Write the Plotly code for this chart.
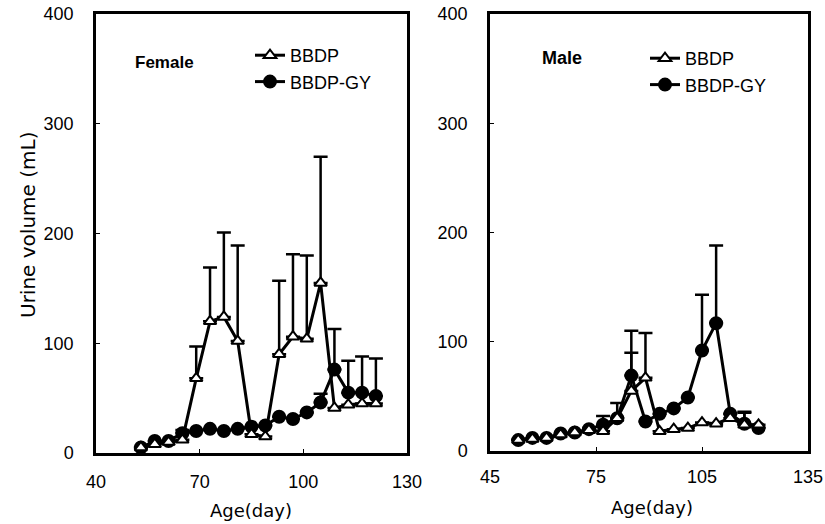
import plotly.graph_objects as go

# ---------------- data ----------------
female_age = [53, 57, 61, 65, 69, 73, 77, 81, 85, 89, 93, 97, 101, 105, 109, 113, 117, 121]
female_bbdp = [5, 8, 10, 12, 68, 120, 124, 102, 17, 15, 90, 106, 104, 155, 41, 44, 45, 45]
female_bbdp_err = [None, None, None, 9, 29, 49, 77, 87, None, None, 67, 75, 76, 115, None, None, None, None]
female_gy = [5, 11, 11, 18, 20, 22, 20, 22, 24, 25, 33, 31, 37, 46, 76, 55, 55, 52]
female_gy_err = [None, None, None, None, None, None, None, None, None, None, None, None, None, 8, 37, 29, 33, 34]

male_age = [53, 57, 61, 65, 69, 73, 77, 81, 85, 89, 93, 97, 101, 105, 109, 113, 117, 121]
male_bbdp = [10, 11, 12, 15, 17, 19, 18, 30, 55, 67, 18, 20, 21, 26, 25, 30, 24, 24]
male_bbdp_err = [None, None, None, None, None, None, 14, None, 35, 41, None, None, None, None, None, None, 12, None]
male_gy = [10, 12, 12, 16, 17, 20, 24, 30, 69, 27, 34, 39, 49, 92, 117, 34, 25, 21]
male_gy_err = [None, None, None, None, None, None, None, 14, 41, None, None, None, None, 51, 71, None, 10, None]

series_names = ["BBDP", "BBDP-GY"]
panel_labels = ["Female", "Male"]
y_ticks = [0, 100, 200, 300, 400]
female_x_ticks = [40, 70, 100, 130]
male_x_ticks = [45, 75, 105, 135]

FONT = "Liberation Sans, Arial, sans-serif"
WIDE = "DejaVu Sans, sans-serif"

fig = go.Figure()


def zeros(arr):
    return [0 if v is not None else None for v in arr]


def add_series(x, y, err, name, tri, xa, ya, legend):
    fig.add_trace(go.Scatter(
        x=x, y=y, mode="lines+markers", name=name,
        xaxis=xa, yaxis=ya, legend=legend,
        line=dict(color="black", width=3),
        marker=dict(
            symbol="triangle-up" if tri else "circle",
            size=11 if tri else 12,
            color="white" if tri else "black",
            line=dict(color="black", width=2),
        ),
        error_y=dict(type="data", array=err, arrayminus=zeros(err), symmetric=False,
                     color="black", thickness=2.5, width=7),
        cliponaxis=False,
    ))


add_series(female_age, female_gy, female_gy_err, series_names[1], False, "x", "y", "legend")
add_series(female_age, female_bbdp, female_bbdp_err, series_names[0], True, "x", "y", "legend")
add_series(male_age, male_gy, male_gy_err, series_names[1], False, "x2", "y2", "legend2")
add_series(male_age, male_bbdp, male_bbdp_err, series_names[0], True, "x2", "y2", "legend2")

W, H = 825, 524

axis_common = dict(
    showgrid=False, zeroline=False, showline=True, mirror=True,
    linecolor="black", linewidth=2.5, ticks="inside", ticklen=4,
    tickcolor="black", tickwidth=1, automargin=False,
    tickfont=dict(family=FONT, size=18, color="black"),
)

legend_font = dict(family=FONT, size=18, color="black")

fig.update_layout(
    width=W, height=H,
    margin=dict(l=0, r=0, t=0, b=0, autoexpand=False),
    paper_bgcolor="white", plot_bgcolor="white",
    xaxis=dict(axis_common, domain=[96 / W, 407 / W], range=[40, 130],
               tickvals=female_x_ticks, anchor="y", ticklabelstandoff=11),
    yaxis=dict(axis_common, domain=[1 - 453 / H, 1 - 14 / H], range=[0, 400],
               tickvals=y_ticks, anchor="x", ticklabelstandoff=16),
    xaxis2=dict(axis_common, domain=[490 / W, 808 / W], range=[45, 135],
                tickvals=male_x_ticks, anchor="y2", ticklabelstandoff=8),
    yaxis2=dict(axis_common, domain=[1 - 451 / H, 1 - 14 / H], range=[0, 400],
                tickvals=y_ticks, anchor="x2", ticklabelstandoff=16),
    legend=dict(x=250 / W, y=1 - 37 / H, xanchor="left", yanchor="top",
                font=legend_font,
                bgcolor="rgba(0,0,0,0)", traceorder="reversed", tracegroupgap=0),
    legend2=dict(x=645 / W, y=1 - 40 / H, xanchor="left", yanchor="top",
                 font=legend_font,
                 bgcolor="rgba(0,0,0,0)", traceorder="reversed", tracegroupgap=0),
    annotations=[
        dict(text="<b>" + panel_labels[0] + "</b>", x=164 / W, y=1 - 62 / H, xref="paper", yref="paper",
             xanchor="center", yanchor="middle",
             showarrow=False, font=dict(family=FONT, size=17, color="black")),
        dict(text="<b>" + panel_labels[1] + "</b>", x=562 / W, y=1 - 58 / H, xref="paper", yref="paper",
             xanchor="center", yanchor="middle",
             showarrow=False, font=dict(family=FONT, size=18, color="black")),
        dict(text="Age(day)", x=251 / W, y=1 - 510 / H, xref="paper", yref="paper",
             xanchor="center", yanchor="middle",
             showarrow=False, font=dict(family=WIDE, size=18, color="black")),
        dict(text="Age(day)", x=652 / W, y=1 - 507 / H, xref="paper", yref="paper",
             xanchor="center", yanchor="middle",
             showarrow=False, font=dict(family=WIDE, size=18, color="black")),
        dict(text="Urine volume (mL)", x=28 / W, y=1 - 225 / H, xref="paper", yref="paper",
             xanchor="center", yanchor="middle",
             showarrow=False, textangle=-90, font=dict(family=WIDE, size=20, color="black")),
    ],
)

fig.write_html("out.html", config={"displayModeBar": False},
               post_script="document.body.style.margin='0';")
